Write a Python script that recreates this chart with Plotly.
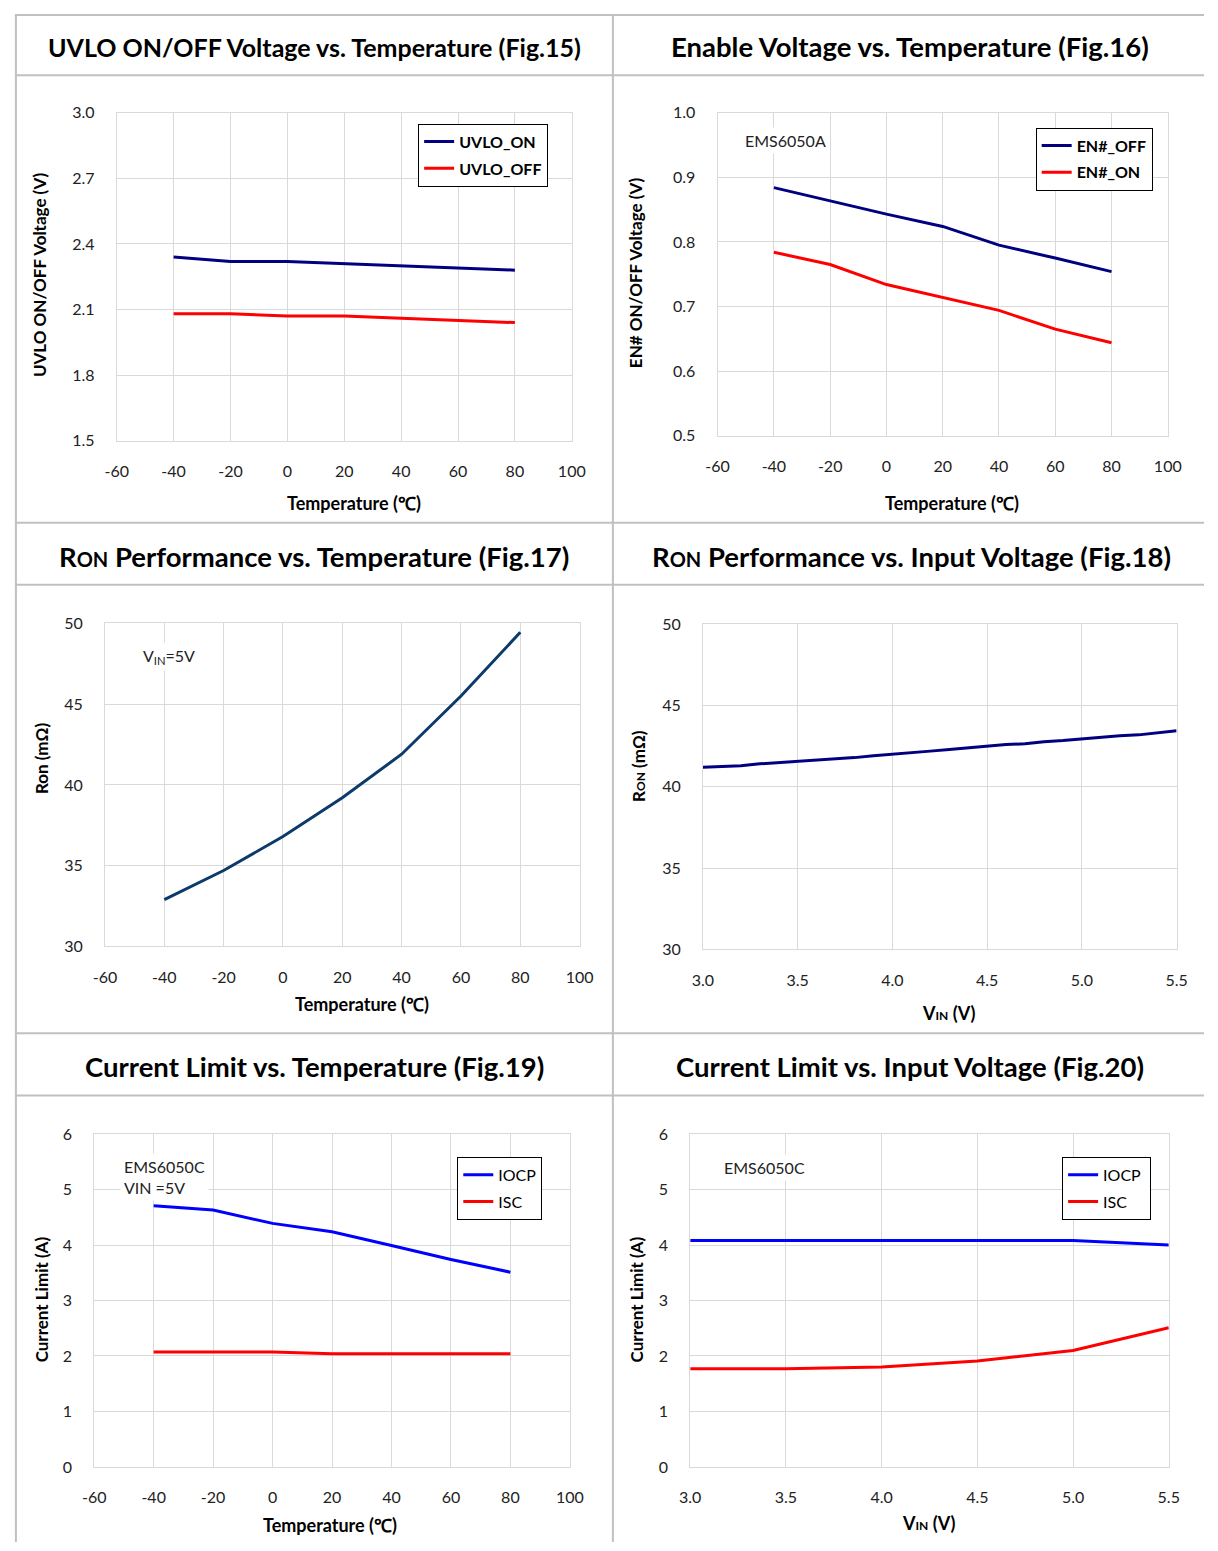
import plotly.graph_objects as go

W, H = 1218, 1551

# ---------------- data ----------------
temp = [-40, -20, 0, 20, 40, 60, 80]
uvlo_on = [2.34, 2.32, 2.32, 2.31, 2.30, 2.29, 2.28]
uvlo_off = [2.08, 2.08, 2.07, 2.07, 2.06, 2.05, 2.04]

en_off = [0.884, 0.863, 0.843, 0.824, 0.795, 0.775, 0.754]
en_on = [0.784, 0.765, 0.734, 0.714, 0.694, 0.665, 0.644]

ron_temp = [32.9, 34.7, 36.8, 39.2, 41.9, 45.5, 49.45]

vin_ron = [3.0, 3.1, 3.2, 3.3, 3.4, 3.5, 3.6, 3.7, 3.8, 3.9, 4.0, 4.1, 4.2,
           4.3, 4.4, 4.5, 4.6, 4.7, 4.8, 4.9, 5.0, 5.1, 5.2, 5.3, 5.4, 5.5]
ron_vin = [41.2, 41.25, 41.3, 41.42, 41.5, 41.55, 41.66, 41.75, 41.8, 41.92,
           42.0, 42.1, 42.2, 42.3, 42.4, 42.5, 42.6, 42.65, 42.78, 42.85,
           42.95, 43.05, 43.15, 43.2, 43.33, 43.45]

iocp_temp = [4.71, 4.63, 4.39, 4.24, 3.99, 3.74, 3.51]
isc_temp = [2.07, 2.07, 2.07, 2.04, 2.04, 2.04, 2.04]

vin_il = [3.0, 3.5, 4.0, 4.5, 5.0, 5.5]
iocp_vin = [4.08, 4.08, 4.08, 4.08, 4.08, 4.0]
isc_vin = [1.77, 1.77, 1.80, 1.91, 2.10, 2.51]

temp_ticks = [-60, -40, -20, 0, 20, 40, 60, 80, 100]
temp_tick_text = ["-60", "-40", "-20", "0", "20", "40", "60", "80", "100"]
vin_ticks = [3.0, 3.5, 4.0, 4.5, 5.0, 5.5]
vin_tick_text = ["3.0", "3.5", "4.0", "4.5", "5.0", "5.5"]

titles = [
    "UVLO ON/OFF Voltage vs. Temperature (Fig.15)",
    "Enable Voltage vs. Temperature (Fig.16)",
    "R<span style='font-size:20px'>ON</span> Performance vs. Temperature (Fig.17)",
    "R<span style='font-size:20px'>ON</span> Performance vs. Input Voltage (Fig.18)",
    "Current Limit vs. Temperature (Fig.19)",
    "Current Limit vs. Input Voltage (Fig.20)",
]
title_sizes = [25, 27.5, 27.5, 27.5, 27.5, 27.5]

# ---------------- style ----------------
FONT = "Lato"
NAVY = "#000080"
RED = "#ff0000"
BLUE = "#0000ff"
DARKBLUE = "#0b3a6b"
GRID = "#d9d9d9"
TICKC = "#222"

# plot areas in pixels: left, right, top, bottom
areas = [
    (107, 572, 104, 436),
    (721, 1181, 104, 431),
    (95, 580, 621, 948),
    (706, 1190, 622, 951),
    (84, 570, 1138, 1475),
    (693, 1182, 1138, 1475),
]

def px(x):
    return x / W

def py(y):
    return 1 - y / H

fig = go.Figure()

def add_line(i, x, y, name, color, legend=None, width=3):
    fig.add_trace(go.Scatter(
        x=x, y=y, mode="lines", name=name,
        line=dict(color=color, width=width),
        xaxis="x" if i == 0 else f"x{i+1}",
        yaxis="y" if i == 0 else f"y{i+1}",
        showlegend=legend is not None,
        legend=legend if legend else "legend",
        legendgroup=name,
    ))

add_line(0, temp, uvlo_on, "UVLO_ON", NAVY, "legend")
add_line(0, temp, uvlo_off, "UVLO_OFF", RED, "legend")
add_line(1, temp, en_off, "EN#_OFF", NAVY, "legend2")
add_line(1, temp, en_on, "EN#_ON", RED, "legend2")
add_line(2, temp, ron_temp, "Ron", DARKBLUE)
add_line(3, vin_ron, ron_vin, "Ron2", NAVY)
add_line(4, temp, iocp_temp, "IOCP", BLUE, "legend3")
add_line(4, temp, isc_temp, "ISC", RED, "legend3")
add_line(5, vin_il, iocp_vin, "IOCP ", BLUE, "legend4")
add_line(5, vin_il, isc_vin, "ISC ", RED, "legend4")

yranges = [(1.5, 3.0), (0.5, 1.0), (30, 50), (30, 50), (0, 6), (0, 6)]
ydtick = [0.3, 0.1, 5, 5, 1, 1]
yfmt = [".1f", ".1f", "d", "d", "d", "d"]

layout = dict(
    width=W, height=H, margin=dict(l=0, r=0, t=0, b=0),
    paper_bgcolor="white", plot_bgcolor="white",
    font=dict(family=FONT, size=16, color=TICKC),
)

for i, (l, r, t, b) in enumerate(areas):
    sx = "" if i == 0 else str(i + 1)
    is_temp = i in (0, 1, 2, 4)
    xa = dict(
        domain=[px(l), px(r)], anchor=f"y{sx}",
        showgrid=True, gridcolor=GRID, gridwidth=1,
        showline=True, linecolor=GRID, mirror=True, linewidth=1,
        zeroline=False, ticks="", ticklabelstandoff=16,
        tickfont=dict(family=FONT, size=16, color=TICKC),
    )
    if is_temp:
        xa.update(range=[-60, 100], tickmode="array", tickvals=temp_ticks,
                  ticktext=temp_tick_text)
    else:
        xa.update(range=[3.0, 5.5], tickmode="array", tickvals=vin_ticks,
                  ticktext=vin_tick_text)
    ya = dict(
        domain=[py(b), py(t)], anchor=f"x{sx}",
        range=list(yranges[i]), dtick=ydtick[i], tick0=yranges[i][0],
        tickformat=yfmt[i],
        showgrid=True, gridcolor=GRID, gridwidth=1,
        showline=True, linecolor=GRID, mirror=True, linewidth=1,
        zeroline=False, ticks="", ticklabelstandoff=18,
        tickfont=dict(family=FONT, size=16, color=TICKC),
    )
    layout[f"xaxis{sx}"] = xa
    layout[f"yaxis{sx}"] = ya

def legend_box(x0, y0, bold, size):
    return dict(
        x=px(x0), y=py(y0), xanchor="left", yanchor="top",
        bgcolor="white", bordercolor="black", borderwidth=1,
        font=dict(family=FONT, size=size, color="black",
                  weight="bold" if bold else "normal"),
        tracegroupgap=3, itemwidth=30,
    )

layout["legend"] = legend_box(415, 115, True, 16)
layout["legend2"] = legend_box(1046, 119, True, 16)
layout["legend3"] = legend_box(455, 1161, False, 16)
layout["legend4"] = legend_box(1073, 1161, False, 16)

shapes = []
BORDER = "#c0c0c0"
for yy in [5, 66, 519, 582, 1036, 1099]:
    shapes.append(dict(type="line", xref="paper", yref="paper",
                       x0=px(3), x1=px(1218), y0=py(yy), y1=py(yy),
                       line=dict(color=BORDER, width=2)))
for xx in [4, 614]:
    shapes.append(dict(type="line", xref="paper", yref="paper",
                       x0=px(xx), x1=px(xx), y0=py(4), y1=py(1551),
                       line=dict(color=BORDER, width=2)))
layout["shapes"] = shapes

ann = []
title_pos = [(309, 37), (918, 37), (309, 553), (919, 553), (309, 1070), (918, 1070)]
for t, (x, y), s in zip(titles, title_pos, title_sizes):
    ann.append(dict(text=f"<b>{t}</b>", x=px(x), y=py(y), xref="paper", yref="paper",
                    showarrow=False, xanchor="center", yanchor="middle",
                    font=dict(family=FONT, size=s, color="black")))

ytitles = [
    ("UVLO ON/OFF Voltage (V)", 28, 268),
    ("EN# ON/OFF Voltage (V)", 637, 266),
    ("Ron (mΩ)", 30, 757),
    ("R<span style='font-size:12px'>ON</span> (mΩ)", 640, 765),
    ("Current Limit (A)", 30, 1305),
    ("Current Limit (A)", 638, 1305),
]
for t, x, y in ytitles:
    ann.append(dict(text=f"<b>{t}</b>", x=px(x), y=py(y), xref="paper", yref="paper",
                    showarrow=False, textangle=-90, xanchor="center", yanchor="middle",
                    font=dict(family=FONT, size=17, color="black")))

xtitles = [
    ("Temperature (℃)", 349, 499),
    ("Temperature (℃)", 960, 499),
    ("Temperature (℃)", 358, 1006),
    ("V<span style='font-size:12px'>IN</span> (V)", 957, 1015),
    ("Temperature (℃)", 325, 1534),
    ("V<span style='font-size:12px'>IN</span> (V)", 937, 1532),
]
for t, x, y in xtitles:
    ann.append(dict(text=f"<b>{t}</b>", x=px(x), y=py(y), xref="paper", yref="paper",
                    showarrow=False, xanchor="center", yanchor="middle",
                    font=dict(family=FONT, size=18, color="black")))

notes = [
    ("EMS6050A", 745, 132),
    ("V<sub>IN</sub>=5V", 130, 655),
    ("EMS6050C<br>VIN =5V", 110, 1181),
    ("EMS6050C", 723, 1172),
]
for t, x, y in notes:
    ann.append(dict(text=t, x=px(x), y=py(y), xref="paper", yref="paper",
                    showarrow=False, xanchor="left", yanchor="middle", align="left",
                    bgcolor="white", borderpad=3,
                    font=dict(family=FONT, size=16, color=TICKC)))
layout["annotations"] = ann

fig.update_layout(**layout)
fig.write_html("out.html")
